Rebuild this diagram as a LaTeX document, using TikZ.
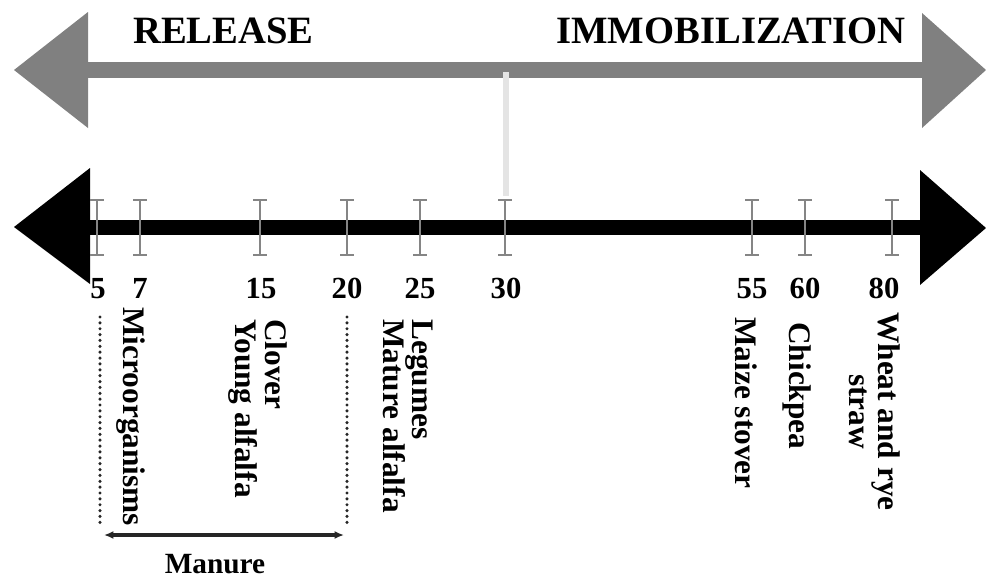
\documentclass[tikz,border=0pt]{standalone}
\usepackage{fontspec}
\setmainfont{Liberation Serif}
\usetikzlibrary{arrows.meta}
\definecolor{bandgray}{HTML}{808080}
\definecolor{tickgray}{HTML}{858585}
\definecolor{palegray}{HTML}{E4E4E4}
\definecolor{inkdark}{HTML}{262626}
\tikzset{
  title/.style={font=\fontsize{29}{30}\selectfont\bfseries, inner sep=0pt},
  numlabel/.style={font=\fontsize{23}{24}\selectfont\bfseries, inner sep=0pt, anchor=base},
  sidelabel/.style={font=\fontsize{23.5}{22}\selectfont\bfseries, inner sep=0pt,
    rotate=-90, anchor=west, align=left},
  tickmark/.style={draw=tickgray, line width=1.6pt},
  guide/.style={draw=inkdark, line width=2.6pt, line cap=round, dash pattern=on 0pt off 4.4pt},
  span/.style={draw=inkdark, line width=2.3pt, {Latex[length=7pt,width=6pt]}-{Latex[length=7pt,width=6pt]}},
}
\newcommand{\ibeam}[1]{%
  \draw[tickmark] (#1,200) -- (#1,255);
  \draw[tickmark] (#1-7,200) -- (#1+7,200);
  \draw[tickmark] (#1-7,255) -- (#1+7,255);}
\begin{document}
\begin{tikzpicture}[x=0.75pt, y=-0.75pt]
  \useasboundingbox (0,0) rectangle (986,579);
  \fill[white] (0,0) rectangle (986,579);

  % release / immobilization double arrow
  \fill[bandgray] (86,62) rectangle (924,78);
  \fill[bandgray] (14,70) -- (88,12) -- (88,128) -- cycle;
  \fill[bandgray] (922,13) -- (986,70) -- (922,128) -- cycle;
  \node[title, anchor=base west] (release) at (133,43) {RELEASE};
  \node[title, anchor=base east] (immob) at (906,43) {IMMOBILIZATION};

  % threshold marker at 30
  \fill[palegray] (503,72) rectangle (509,196);

  % C:N scale axis
  \fill[black] (88,220) rectangle (922,235);
  \fill[black] (14,227) -- (90,168) -- (90,284) -- cycle;
  \fill[black] (920,170) -- (986,228) -- (920,285) -- cycle;

  % ticks
  \foreach \x in {97,140,260,347,420,505,752,805,892} {\ibeam{\x}}

  % values
  \node[numlabel] (n5)  at (98,298)  {5};
  \node[numlabel] (n7)  at (140,298) {7};
  \node[numlabel] (n15) at (261,298) {15};
  \node[numlabel] (n20) at (347,298) {20};
  \node[numlabel] (n25) at (420,298) {25};
  \node[numlabel] (n30) at (506,298) {30};
  \node[numlabel] (n55) at (752,298) {55};
  \node[numlabel] (n60) at (805,298) {60};
  \node[numlabel] (n80) at (884,298) {80};

  % materials
  \node[sidelabel] (micro)   at (131,307) {Microorganisms};
  \node[sidelabel] (clover)  at (258,319) {Clover\\Young alfalfa};
  \node[sidelabel] (legumes) at (408,319) {Legumes\\Mature alfalfa};
  \node[sidelabel] (maize)   at (746,317) {Maize stover};
  \node[sidelabel] (chick)   at (797,322) {Chickpea};
  \node[sidelabel, align=center] (wheat) at (875,312) {Wheat and rye\\straw};

  % manure range
  \coordinate (gl1) at (100,317);
  \coordinate (gl2) at (100,525);
  \coordinate (gr1) at (347,317);
  \coordinate (gr2) at (347,525);
  \draw[guide] (gl1) -- (gl2);
  \draw[guide] (gr1) -- (gr2);
  \coordinate (ml) at (104,535);
  \coordinate (mr) at (344,535);
  \draw[span] (ml) -- (mr);
  \node[font=\fontsize{22}{24}\selectfont\bfseries, inner sep=0pt] (manure) at (215,564) {Manure};
\end{tikzpicture}
\end{document}
